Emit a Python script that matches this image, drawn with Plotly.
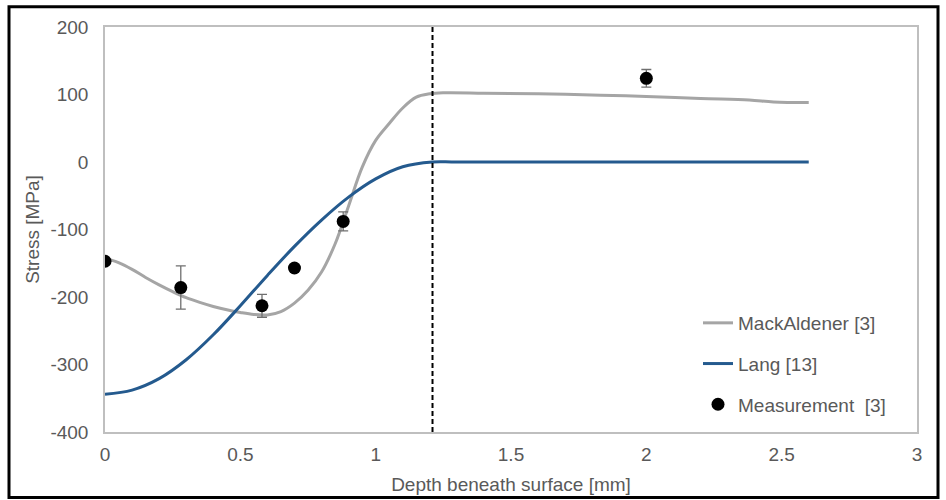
import plotly.graph_objects as go

# MackAldener [3] model curve
mack_x = [0, 0.05, 0.1, 0.15, 0.2, 0.25, 0.3, 0.35, 0.4, 0.45, 0.5, 0.55, 0.6, 0.65, 0.7, 0.75,
          0.8, 0.85, 0.9, 0.95, 1.0, 1.05, 1.1, 1.15, 1.2, 1.25, 1.4, 1.6, 1.83, 2.0, 2.2, 2.38,
          2.47, 2.6]
mack_y = [-142, -149, -159, -171, -182, -192, -201, -208, -214, -219, -223, -226, -226.5, -221.5,
          -209, -190, -163, -121.5, -65, -8, 32, 57, 80, 96, 101, 102.5, 102, 101, 99, 97, 94, 92,
          89, 88]

# Lang [13] model curve
lang_x = [0, 0.1, 0.2, 0.3, 0.4, 0.5, 0.6, 0.7, 0.8, 0.9, 1.0, 1.1, 1.21, 1.3, 2.6]
lang_y = [-344, -338, -321, -293, -256, -213, -168, -125, -86, -52, -25, -7, 0, 0, 0]

# Measurement [3]
meas_x = [0, 0.28, 0.58, 0.70, 0.88, 2.0]
meas_y = [-147, -186, -213, -157, -88, 124]
meas_err = [4, 32, 17, 5, 14, 13]

case_depth = 1.21

x_ticks = [0, 0.5, 1, 1.5, 2, 2.5, 3]
x_tick_labels = ["0", "0.5", "1", "1.5", "2", "2.5", "3"]
y_ticks = [-400, -300, -200, -100, 0, 100, 200]
y_tick_labels = ["-400", "-300", "-200", "-100", "0", "100", "200"]

txt = "#595959"
font_family = "Liberation Sans, Arial, sans-serif"

fig = go.Figure()
fig.add_trace(go.Scatter(x=mack_x, y=mack_y, mode="lines", name="MackAldener [3]",
                         line=dict(color="#a5a5a5", width=3, shape="spline", smoothing=1.0),
                         legendgroup="a"))
fig.add_trace(go.Scatter(x=lang_x, y=lang_y, mode="lines", name="Lang [13]",
                         line=dict(color="#245a8e", width=3, shape="spline", smoothing=1.0),
                         legendgroup="b"))
fig.add_trace(go.Scatter(x=meas_x, y=meas_y, mode="markers", name="Measurement\u00a0 [3]",
                         marker=dict(color="black", size=13),
                         error_y=dict(type="data", array=meas_err, visible=True,
                                      color="#6f6f6f", thickness=1.3, width=5),
                         legendgroup="c"))

fig.add_shape(type="line", x0=case_depth, x1=case_depth, y0=-400, y1=200,
              xref="x", yref="y", line=dict(color="black", width=2, dash="5px,3px"))

# outer black frame
L, R, T, B = 105, 917, 27, 432
W, H = R - L, B - T
def px(x): return (x - L) / W
def py(y): return (B - y) / H
fig.add_shape(type="rect", xref="paper", yref="paper",
              x0=px(9), x1=px(938), y0=py(497.5), y1=py(6.7),
              line=dict(color="black", width=3))

fig.update_layout(
    width=946, height=500,
    margin=dict(l=L, r=946 - R, t=T, b=500 - B),
    paper_bgcolor="white", plot_bgcolor="white",
    font=dict(family=font_family, size=19, color=txt),
    showlegend=True,
    legend=dict(x=px(698), y=py(304), xanchor="left", yanchor="top",
                bgcolor="rgba(0,0,0,0)", font=dict(size=19, color=txt),
                traceorder="grouped", tracegroupgap=13),
    xaxis=dict(range=[0, 3], tickvals=x_ticks, ticktext=x_tick_labels,
               showgrid=False, zeroline=False, showline=True, mirror=True,
               linecolor="#bfbfbf", linewidth=1.5, ticks="", automargin=False,
               title=dict(text="Depth beneath surface [mm]", standoff=14,
                          font=dict(size=19, color=txt)),
               ticklabelstandoff=4),
    yaxis=dict(range=[-400, 200], tickvals=y_ticks, ticktext=y_tick_labels,
               showgrid=False, zeroline=False, showline=True, mirror=True,
               linecolor="#bfbfbf", linewidth=1.5, ticks="", automargin=False,
               title=dict(text="Stress [MPa]", standoff=6,
                          font=dict(size=19, color=txt)),
               ticklabelstandoff=11),
)

fig.write_html("out.html", config={"displayModeBar": False},
               post_script="document.body.style.margin='0px';")
